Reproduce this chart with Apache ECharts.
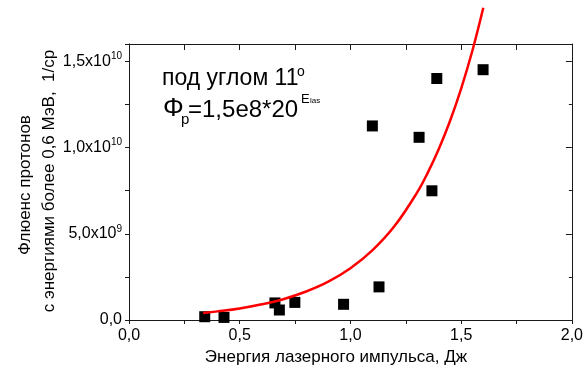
<!DOCTYPE html>
<html>
<head>
<meta charset="utf-8">
<script src="https://cdn.jsdelivr.net/npm/echarts@6/dist/echarts.min.js"></script>
<style>
html,body{margin:0;padding:0;background:#fff;}
#c{width:586px;height:368px;}
</style>
</head>
<body>
<div id="c"></div>
<script>
// Measured points: laser energy (J) vs proton fluence (1/sr)
const energy  = [0.342, 0.429, 0.659, 0.679, 0.749, 0.969, 1.129, 1.099, 1.310, 1.368, 1.390, 1.599];
const fluence = [1.9e8, 1.5e8, 9.9e8, 5.8e8, 1.02e9, 9.1e8, 1.92e9, 1.125e10, 1.059e10, 7.49e9, 1.40e10, 1.451e10];

// Fit curve
const fitE   = [0.335, 0.4, 0.5, 0.6, 0.7, 0.8, 0.9, 1.0, 1.1, 1.2, 1.3, 1.35, 1.4, 1.45, 1.5, 1.55, 1.6];
const fitPhi = [4.1e8, 5.0e8, 6.7e8, 9.1e8, 1.22e9, 1.65e9, 2.22e9, 3.0e9, 4.05e9, 5.46e9, 7.37e9, 8.56e9, 9.94e9, 1.155e10, 1.342e10, 1.558e10, 1.81e10];

// Tick labels
const xTickValues = [0, 0.5, 1.0, 1.5, 2.0];
const xTickLabels = ['0,0', '0,5', '1,0', '1,5', '2,0'];
const yTickValues = [0, 5e9, 1e10, 1.5e10];
const yTickMant   = ['0,0', '5,0x10', '1,0x10', '1,5x10'];
const yTickExp    = ['', '9', '10', '10'];

const xTitle = 'Энергия лазерного импульса, Дж';
const yTitle1 = 'Флюенс протонов';
const yTitle2 = 'с энергиями более 0,6 МэВ,  1/ср';

const FONT = '"Liberation Sans", Arial, sans-serif';
const AX = '#1a1a1a';

function xFmt(v) {
  const i = xTickValues.findIndex(t => Math.abs(t - v) < 1e-9);
  return i >= 0 ? xTickLabels[i] : '';
}
function yFmt(v) {
  const i = yTickValues.findIndex(t => Math.abs(t - v) < 1);
  if (i < 0) return '';
  return '{m|' + yTickMant[i] + '}' + (yTickExp[i] ? '{s|' + yTickExp[i] + '}' : '');
}

const chart = echarts.init(document.getElementById('c'), null, {renderer: 'canvas'});

const axisLine = {show: true, onZero: false, lineStyle: {color: AX, width: 1}};

chart.setOption({
  animation: false,
  backgroundColor: '#fff',
  grid: {left: 129, right: 14, top: 44, bottom: 48},
  xAxis: [
    {
      type: 'value', position: 'bottom', min: 0, max: 2, interval: 0.5,
      axisLine: axisLine,
      axisTick: {show: true, inside: false, length: 4, lineStyle: {color: AX}},
      minorTick: {show: true, splitNumber: 2, length: 4, lineStyle: {color: AX}},
      splitLine: {show: false},
      axisLabel: {formatter: xFmt, fontSize: 16, color: '#000', fontFamily: FONT, margin: 8}
    },
    {
      type: 'value', position: 'top', min: 0, max: 2, interval: 0.5,
      axisLine: axisLine,
      axisTick: {show: true, inside: true, length: 6, lineStyle: {color: AX}},
      minorTick: {show: true, splitNumber: 2, length: 6, lineStyle: {color: AX}},
      splitLine: {show: false},
      axisLabel: {show: false}
    }
  ],
  yAxis: [
    {
      type: 'value', position: 'left', min: 0, max: 1.6e10, interval: 5e9,
      axisLine: axisLine,
      axisTick: {show: true, inside: false, length: 4, lineStyle: {color: AX}},
      minorTick: {show: true, splitNumber: 2, length: 4, lineStyle: {color: AX}},
      splitLine: {show: false},
      axisLabel: {
        formatter: yFmt, margin: 7, showMaxLabel: false,
        rich: {
          m: {fontSize: 16, color: '#000', fontFamily: FONT, lineHeight: 20},
          s: {fontSize: 10, color: '#000', fontFamily: FONT, verticalAlign: 'top', lineHeight: 12}
        }
      }
    },
    {
      type: 'value', position: 'right', min: 0, max: 1.6e10, interval: 5e9,
      axisLine: axisLine,
      axisTick: {show: true, inside: true, length: 6, lineStyle: {color: AX}},
      minorTick: {show: true, splitNumber: 2, length: 3, lineStyle: {color: AX}},
      splitLine: {show: false},
      axisLabel: {show: false}
    }
  ],
  series: [
    {
      type: 'scatter',
      xAxisIndex: 0, yAxisIndex: 0,
      data: energy.map((e, i) => [e, fluence[i]]),
      symbol: 'rect', symbolSize: 11,
      itemStyle: {color: '#000', opacity: 1},
      z: 3
    },
    {
      type: 'line',
      xAxisIndex: 0, yAxisIndex: 0,
      data: fitE.map((e, i) => [e, fitPhi[i]]),
      smooth: 0.4, showSymbol: false, clip: false,
      lineStyle: {color: '#ff0000', width: 2.5},
      z: 4
    }
  ],
  graphic: [
    {type: 'text', x: 336, y: 357, style: {text: xTitle, font: '17px ' + FONT, fill: '#000', textAlign: 'center', textVerticalAlign: 'middle'}},
    {type: 'text', x: 25, y: 185, rotation: Math.PI / 2, style: {text: yTitle1, font: '17px ' + FONT, fill: '#000', textAlign: 'center', textVerticalAlign: 'middle'}},
    {type: 'text', x: 49, y: 181, rotation: Math.PI / 2, style: {text: yTitle2, font: '17px ' + FONT, fill: '#000', textAlign: 'center', textVerticalAlign: 'middle'}},
    {type: 'text', x: 162, y: 79, style: {text: 'под углом 11', font: '23px ' + FONT, fill: '#000', textAlign: 'left', textVerticalAlign: 'middle'}},
    {type: 'text', x: 297, y: 72, style: {text: 'o', font: '14px ' + FONT, fill: '#000', textAlign: 'left', textVerticalAlign: 'middle'}},
    {type: 'text', x: 163, y: 109, style: {text: 'Φ', font: '26px ' + FONT, fill: '#000', textAlign: 'left', textVerticalAlign: 'middle'}},
    {type: 'text', x: 181, y: 120, style: {text: 'p', font: '15px ' + FONT, fill: '#000', textAlign: 'left', textVerticalAlign: 'middle'}},
    {type: 'text', x: 188, y: 110, style: {text: '=1,5e8*20', font: '24px ' + FONT, fill: '#000', textAlign: 'left', textVerticalAlign: 'middle'}},
    {type: 'text', x: 301, y: 99, style: {text: 'E', font: '13px ' + FONT, fill: '#000', textAlign: 'left', textVerticalAlign: 'middle'}},
    {type: 'text', x: 310, y: 101, style: {text: 'las', font: '8px ' + FONT, fill: '#000', textAlign: 'left', textVerticalAlign: 'middle'}}
  ]
});
</script>
</body>
</html>
